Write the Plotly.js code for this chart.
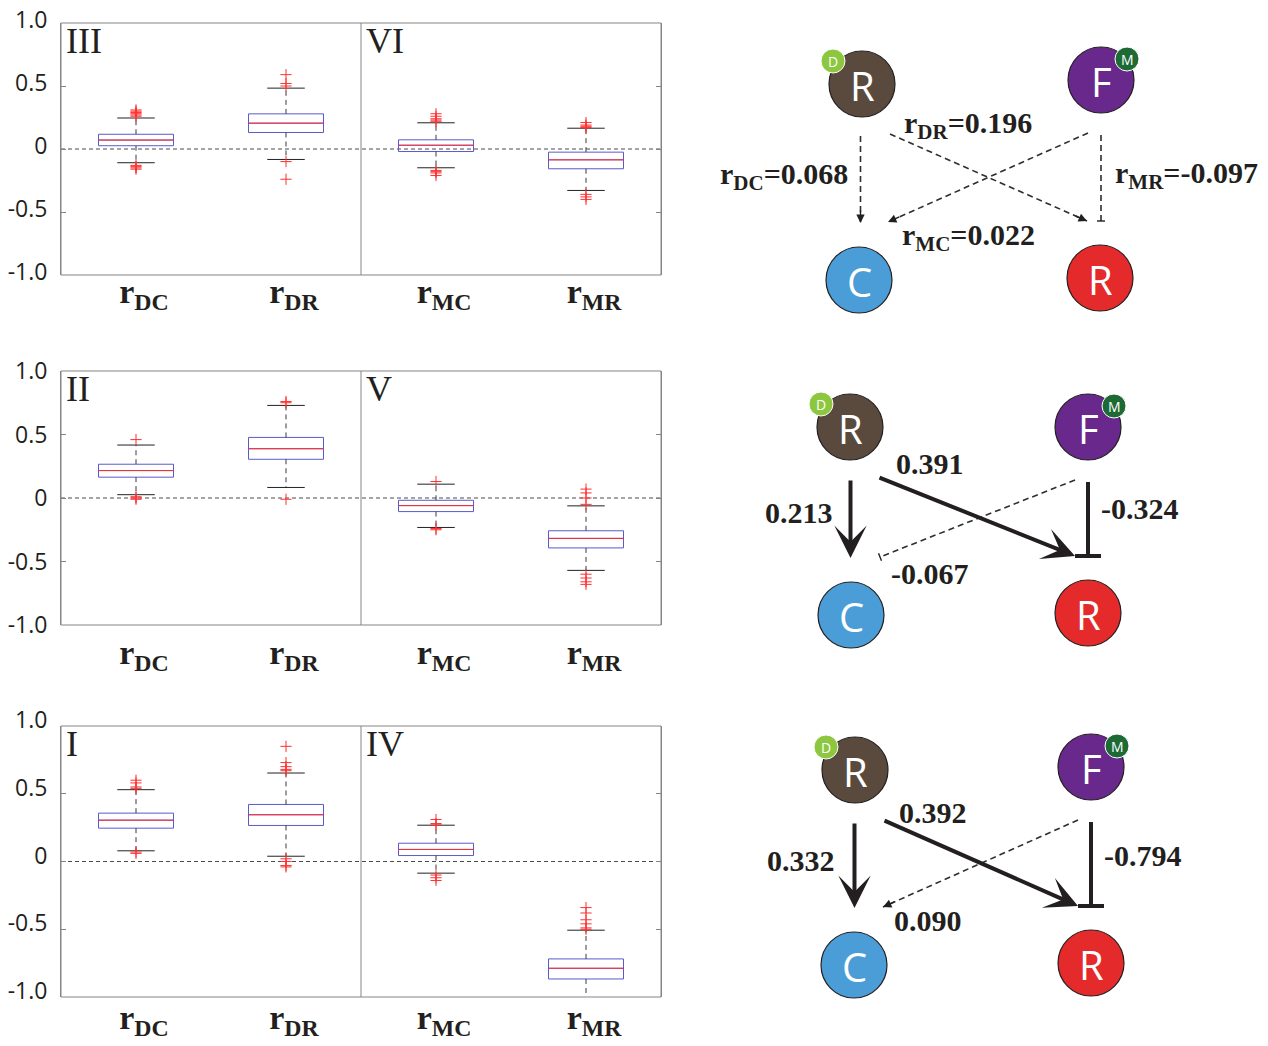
<!DOCTYPE html>
<html><head><meta charset="utf-8">
<script src="https://cdn.plot.ly/plotly-3.0.1.min.js"></script>
<style>html,body{margin:0;padding:0;background:#fff;}#chart{width:1268px;height:1046px;}</style>
</head><body><div id="chart"></div>
<script>
// ---------------- DATA ----------------
const categories = ['DC', 'DR', 'MC', 'MR'];
const tickLabels = ['r<sub>DC</sub>', 'r<sub>DR</sub>', 'r<sub>MC</sub>', 'r<sub>MR</sub>'];
const yTickValues = [-1, -0.5, 0, 0.5, 1];
const yTickLabels = ['-1.0', '-0.5', '0', '0.5', '1.0'];
const panelNames = [['III', 'VI'], ['II', 'V'], ['I', 'IV']];

// panel III / VI (top)
const q1Top = [0.026, 0.131, -0.020, -0.157];
const medianTop = [0.071, 0.205, 0.030, -0.086];
const q3Top = [0.117, 0.279, 0.073, -0.025];
const lowWhiskTop = [-0.109, -0.083, -0.149, -0.329];
const highWhiskTop = [0.246, 0.483, 0.208, 0.165];
const outliersTop = [
  [0.26, 0.27, 0.28, 0.29, 0.30, 0.31, -0.13, -0.14, -0.15, -0.16],
  [0.59, 0.52, 0.50, -0.10, -0.24],
  [0.22, 0.23, 0.24, 0.26, 0.28, -0.17, -0.18, -0.19, -0.21],
  [0.17, 0.18, 0.19, 0.21, -0.36, -0.38, -0.40]
];

// panel II / V (middle)
const q1Mid = [0.164, 0.305, -0.107, -0.393];
const medianMid = [0.216, 0.388, -0.060, -0.318];
const q3Mid = [0.266, 0.477, -0.018, -0.258];
const lowWhiskMid = [0.026, 0.083, -0.232, -0.570];
const highWhiskMid = [0.417, 0.729, 0.109, -0.062];
const outliersMid = [
  [0.46, 0.01, 0.00, -0.01],
  [0.75, 0.76, -0.01],
  [0.13, -0.24, -0.25],
  [0.07, 0.04, 0.00, -0.05, -0.60, -0.63, -0.66, -0.68]
];

// panel I / IV (bottom)
const q1Bot = [0.246, 0.266, 0.044, -0.867];
const medianBot = [0.305, 0.345, 0.089, -0.788];
const q3Bot = [0.357, 0.421, 0.135, -0.719];
const lowWhiskBot = [0.079, 0.039, -0.086, -1.05];
const highWhiskBot = [0.530, 0.653, 0.268, -0.507];
const outliersBot = [
  [0.60, 0.58, 0.55, 0.54, 0.07, 0.06],
  [0.85, 0.73, 0.70, 0.68, 0.67, 0.02, 0.00, -0.03, -0.04],
  [0.27, 0.28, 0.31, -0.10, -0.12, -0.14],
  [-0.34, -0.38, -0.43, -0.46, -0.49, -0.50]
];

// network diagrams (top -> bottom): coefficients and significance
const coefDC = [0.068, 0.213, 0.332];
const coefDR = [0.196, 0.391, 0.392];
const coefMC = [0.022, -0.067, 0.090];
const coefMR = [-0.097, -0.324, -0.794];
const sigDC = [false, true, true];
const sigDR = [false, true, true];
const sigMC = [false, false, false];
const sigMR = [false, true, true];
const showSymbol = [true, false, false];

// ---------------- LAYOUT CONFIG ----------------
const W = 1268, H = 1046;
const panelPx = [
  {top: 23, bottom: 275, labelAxis: 268, yshift: -3},
  {top: 371, bottom: 625, labelAxis: 629, yshift: 0},
  {top: 726, bottom: 997, labelAxis: 994, yshift: -6}
];
const panelLeft = 61, panelRight = 661;
const BOXW = 0.5, CAPW = 0.25;
const boxBlue = '#5a5acc', medRed = '#ff2b2b', whiskCol = '#3a3a3a', frameCol = '#858585';

// node layouts per diagram (pixel positions)
const nodeLayout = [
  {Rb: [862, 84], F: [1101, 80], C: [859, 280], Rr: [1100, 278]},
  {Rb: [850, 427], F: [1088, 427], C: [851, 615], Rr: [1088, 613]},
  {Rb: [855, 770], F: [1091, 767], C: [854, 965], Rr: [1091, 963]}
];
const labelLayout = [
  {DR: [968, 125, 'center'], DC: [850, 176, 'right'], MR: [1113, 175, 'left'], MC: [968, 237, 'center']},
  {DR: [930, 463, 'center'], DC: [835, 512, 'right'], MR: [1099, 508, 'left'], MC: [930, 573, 'center']},
  {DR: [933, 812, 'center'], DC: [837, 860, 'right'], MR: [1102, 855, 'left'], MC: [928, 920, 'center']}
];
const nodeColors = {Rb: '#5a4a3e', F: '#68288c', C: '#4a9dd6', Rr: '#e42a2b'};
const nodeLetters = {Rb: 'R', F: 'F', C: 'C', Rr: 'R'};

const panels = [
  {q1: q1Top, med: medianTop, q3: q3Top, lo: lowWhiskTop, hi: highWhiskTop, out: outliersTop},
  {q1: q1Mid, med: medianMid, q3: q3Mid, lo: lowWhiskMid, hi: highWhiskMid, out: outliersMid},
  {q1: q1Bot, med: medianBot, q3: q3Bot, lo: lowWhiskBot, hi: highWhiskBot, out: outliersBot}
];

const traces = [], shapes = [], annotations = [];
const layout = {
  width: W, height: H, margin: {l: 0, r: 0, t: 0, b: 0},
  paper_bgcolor: '#ffffff', plot_bgcolor: 'rgba(0,0,0,0)', showlegend: false,
  shapes: shapes, annotations: annotations
};

const positions = categories.map((c, i) => i + 1);

panels.forEach((p, k) => {
  const xa = k === 0 ? 'x' : 'x' + (k + 1);
  const ya = k === 0 ? 'y' : 'y' + (k + 1);
  const xKey = k === 0 ? 'xaxis' : 'xaxis' + (k + 1);
  const yKey = k === 0 ? 'yaxis' : 'yaxis' + (k + 1);
  const px = panelPx[k];
  layout[xKey] = {
    domain: [panelLeft / W, panelRight / W], anchor: 'free', position: 1 - px.labelAxis / H,
    range: [0.5, 4.5],
    tickmode: 'array', tickvals: positions, ticktext: tickLabels, ticks: '',
    ticklabelstandoff: 0, ticklabelshift: 8,
    tickfont: {family: 'Liberation Serif', size: 34, color: '#231f20', weight: 'bold'},
    showline: false, showgrid: false, zeroline: false, fixedrange: true, automargin: false
  };
  layout[yKey] = {
    domain: [1 - px.bottom / H, 1 - px.top / H], anchor: xa, range: [-1, 1],
    tickmode: 'array', tickvals: yTickValues, ticktext: yTickLabels,
    ticks: 'inside', ticklen: 5, tickcolor: frameCol, tickwidth: 1,
    ticklabelstandoff: 8, ticklabelshift: px.yshift,
    tickfont: {family: 'Open Sans', size: 23, color: '#231f20'},
    showline: true, mirror: 'ticks', linecolor: frameCol, linewidth: 1,
    showgrid: false, zeroline: false, fixedrange: true, automargin: false
  };

  // frame, zero reference and divider
  shapes.push({type: 'rect', xref: xa + ' domain', yref: ya + ' domain', x0: 0, x1: 1, y0: 0, y1: 1,
    line: {color: frameCol, width: 1}, fillcolor: 'rgba(0,0,0,0)', layer: 'above'});
  shapes.push({type: 'line', xref: xa, yref: ya, x0: 0.5, x1: 4.5, y0: 0, y1: 0,
    line: {color: '#4a4a4a', width: 1, dash: '4px,3px'}, layer: 'below'});
  shapes.push({type: 'line', xref: xa, yref: ya, x0: 2.5, x1: 2.5, y0: -1, y1: 1,
    line: {color: frameCol, width: 1}, layer: 'below'});

  const wx = [], wy = [], cx = [], cy = [], mx = [], my = [], ox = [], oy = [];
  positions.forEach((pos, i) => {
    wx.push(pos, pos, null, pos, pos, null);
    wy.push(p.q3[i], p.hi[i], null, p.q1[i], p.lo[i], null);
    cx.push(pos - CAPW / 2, pos + CAPW / 2, null, pos - CAPW / 2, pos + CAPW / 2, null);
    cy.push(p.hi[i], p.hi[i], null, p.lo[i], p.lo[i], null);
    mx.push(pos - BOXW / 2, pos + BOXW / 2, null);
    my.push(p.med[i], p.med[i], null);
    p.out[i].forEach(v => { ox.push(pos); oy.push(v); });
  });
  traces.push({type: 'scatter', mode: 'lines', x: wx, y: wy, xaxis: xa, yaxis: ya,
    line: {color: whiskCol, width: 1, dash: '5px,4px'}, hoverinfo: 'skip'});
  traces.push({type: 'box', x: positions, q1: p.q1, median: p.med, q3: p.q3,
    lowerfence: p.q1, upperfence: p.q3, width: BOXW, whiskerwidth: 0,
    line: {color: boxBlue, width: 1}, fillcolor: 'rgba(0,0,0,0)', boxpoints: false,
    xaxis: xa, yaxis: ya, hoverinfo: 'skip'});
  traces.push({type: 'scatter', mode: 'lines', x: mx, y: my, xaxis: xa, yaxis: ya,
    line: {color: medRed, width: 1}, hoverinfo: 'skip'});
  traces.push({type: 'scatter', mode: 'lines', x: cx, y: cy, xaxis: xa, yaxis: ya,
    line: {color: '#222', width: 1}, hoverinfo: 'skip'});
  traces.push({type: 'scatter', mode: 'markers', x: ox, y: oy, xaxis: xa, yaxis: ya,
    marker: {symbol: 'cross-thin', size: 8, color: '#ff3030', line: {color: '#ff3030', width: 1}},
    hoverinfo: 'skip', cliponaxis: false});

  panelNames[k].forEach((name, j) => {
    annotations.push({xref: xa, yref: ya + ' domain', x: j === 0 ? 0.5 : 2.5, y: 1,
      xanchor: 'left', yanchor: 'top', xshift: 3, yshift: 4, showarrow: false,
      text: name, font: {family: 'Liberation Serif', size: 36, color: '#231f20'}});
  });
});

// ---------------- DIAGRAMS (pixel-space axis) ----------------
layout.xaxis4 = {domain: [0, 1], range: [0, W], visible: false, fixedrange: true, anchor: 'y4'};
layout.yaxis4 = {domain: [0, 1], range: [H, 0], visible: false, fixedrange: true, anchor: 'x4'};

const ink = '#231f20';
function dashedLine(a, b) {
  shapes.push({type: 'line', xref: 'x4', yref: 'y4', x0: a[0], y0: a[1], x1: b[0], y1: b[1],
    line: {color: '#2e2e2e', width: 1.6, dash: '6px,4px'}});
}
function solidLine(a, b) {
  shapes.push({type: 'line', xref: 'x4', yref: 'y4', x0: a[0], y0: a[1], x1: b[0], y1: b[1],
    line: {color: ink, width: 4}});
}
function headArrow(a, b, big) {
  const dx = b[0] - a[0], dy = b[1] - a[1], L = Math.hypot(dx, dy);
  const back = big ? L : 14;
  annotations.push({xref: 'x4', yref: 'y4', axref: 'x4', ayref: 'y4', x: b[0], y: b[1],
    ax: b[0] - dx / L * back, ay: b[1] - dy / L * back, text: '', showarrow: true,
    arrowhead: big ? 3 : 2, arrowsize: big ? 1.35 : 1.2, arrowwidth: big ? 4 : 1.4, arrowcolor: ink});
}
function tBar(a, b, big) {
  const dx = b[0] - a[0], dy = b[1] - a[1], L = Math.hypot(dx, dy);
  const nx = -dy / L, ny = dx / L, h = big ? 13 : 4;
  shapes.push({type: 'line', xref: 'x4', yref: 'y4', x0: b[0] - nx * h, y0: b[1] - ny * h,
    x1: b[0] + nx * h, y1: b[1] + ny * h, line: {color: ink, width: big ? 4 : 1.4}});
}

nodeLayout.forEach((n, d) => {
  const Rb = n.Rb, F = n.F, C = n.C, Rr = n.Rr;
  const edges = [
    {key: 'DC', a: [(Rb[0] + C[0]) / 2, Rb[1] + 52], b: [(Rb[0] + C[0]) / 2, C[1] - 57], v: coefDC[d], sig: sigDC[d]},
    {key: 'DR', a: [Rb[0] + 28, Rb[1] + 50], b: [Rr[0] - 13, Rr[1] - 57], v: coefDR[d], sig: sigDR[d]},
    {key: 'MC', a: [F[0] - 13, F[1] + 53], b: [C[0] + 29, C[1] - 58], v: coefMC[d], sig: sigMC[d]},
    {key: 'MR', a: [F[0], F[1] + 55], b: [F[0], Rr[1] - 57], v: coefMR[d], sig: sigMR[d]}
  ];
  edges.forEach(e => {
    if (e.sig) {
      if (e.v >= 0) headArrow(e.a, e.b, true);
      else { solidLine(e.a, e.b); tBar(e.a, e.b, true); }
    } else {
      dashedLine(e.a, e.b);
      if (e.v >= 0) headArrow(e.a, e.b, false); else tBar(e.a, e.b, false);
    }
    const lp = labelLayout[d][e.key];
    const txt = (showSymbol[d] ? 'r<sub>' + e.key + '</sub>=' : '') + e.v.toFixed(3);
    annotations.push({xref: 'x4', yref: 'y4', x: lp[0], y: lp[1], xanchor: lp[2], yanchor: 'middle',
      showarrow: false, text: txt, font: {family: 'Liberation Serif', size: 30, color: ink, weight: 'bold'}});
  });

  const keys = ['Rb', 'F', 'C', 'Rr'];
  traces.push({type: 'scatter', mode: 'markers', xaxis: 'x4', yaxis: 'y4',
    x: keys.map(k => n[k][0]), y: keys.map(k => n[k][1]),
    marker: {size: 66, color: keys.map(k => nodeColors[k]), line: {color: ink, width: 1.2}},
    hoverinfo: 'skip'});
  keys.forEach(k => annotations.push({xref: 'x4', yref: 'y4', x: n[k][0], y: n[k][1], yshift: -1,
    xanchor: 'center', yanchor: 'middle', showarrow: false, text: nodeLetters[k],
    font: {family: 'Open Sans', size: 40, color: '#ffffff'}}));
  const badges = [{p: [Rb[0] - 29, Rb[1] - 23], c: '#8dc63f', t: 'D'}, {p: [F[0] + 26, F[1] - 21], c: '#1d6a35', t: 'M'}];
  traces.push({type: 'scatter', mode: 'markers', xaxis: 'x4', yaxis: 'y4',
    x: badges.map(b => b.p[0]), y: badges.map(b => b.p[1]),
    marker: {size: 24, color: badges.map(b => b.c), line: {color: '#ffffff', width: 1}}, hoverinfo: 'skip'});
  badges.forEach(b => annotations.push({xref: 'x4', yref: 'y4', x: b.p[0], y: b.p[1],
    xanchor: 'center', yanchor: 'middle', showarrow: false, text: b.t,
    font: {family: 'Open Sans', size: 14, color: '#ffffff'}}));
});

Plotly.newPlot('chart', traces, layout, {staticPlot: true, displayModeBar: false});
</script>
</body></html>
